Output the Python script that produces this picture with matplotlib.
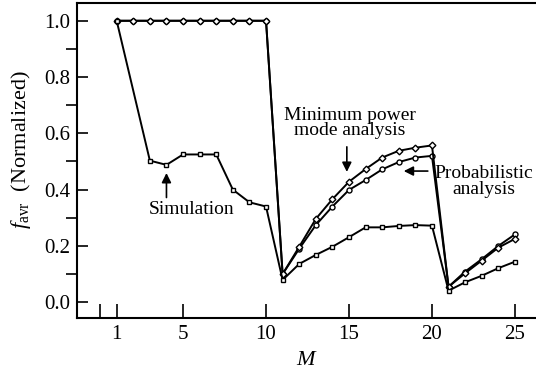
import numpy as np
import matplotlib
matplotlib.use("Agg")
import matplotlib.pyplot as plt
from matplotlib.ticker import MultipleLocator, FormatStrFormatter

plt.rcParams['font.family'] = 'serif'
plt.rcParams['font.serif'] = ['Liberation Serif', 'DejaVu Serif']
plt.rcParams['mathtext.fontset'] = 'custom'
plt.rcParams['mathtext.rm'] = 'Liberation Serif'
plt.rcParams['mathtext.it'] = 'Liberation Serif:italic'

# M values and normalized f_avr for each curve
m_all = list(range(1, 26))
min_power = [1.0] * 10 + [0.10, 0.197, 0.296, 0.366, 0.428, 0.473, 0.514, 0.538, 0.549, 0.557,
                          0.055, 0.103, 0.148, 0.194, 0.225]
probabilistic = [1.0] * 10 + [0.10, 0.19, 0.274, 0.34, 0.399, 0.434, 0.472, 0.498, 0.514, 0.52,
                              0.055, 0.109, 0.153, 0.20, 0.241]
m_sim = [1] + list(range(3, 26))
simulation = [1.0, 0.503, 0.488, 0.525, 0.525, 0.525, 0.40, 0.355, 0.34,
              0.079, 0.136, 0.168, 0.197, 0.231, 0.266, 0.266, 0.271, 0.274, 0.272,
              0.041, 0.071, 0.094, 0.121, 0.144]

x_ticks = [0, 1, 5, 10, 15, 20, 25]
x_tick_labels = ['', '1', '5', '10', '15', '20', '25']

fig = plt.figure(figsize=(5.36, 3.79), dpi=100)
ax = fig.add_axes([0.1437, 0.161, 0.8563, 0.831])

mk = dict(color='black', lw=1.4, markersize=3.6, markerfacecolor='white',
          markeredgecolor='black', markeredgewidth=1.0)
ax.plot(m_all, probabilistic, marker='o', **mk)
ax.plot(m_all, min_power, marker='D', **{**mk, 'markersize': 3.4})
ax.plot(m_sim, simulation, marker='s', **{**mk, 'markersize': 3.4})

ax.set_xlim(-1.39, 26.27)
ax.set_ylim(-0.056, 1.063)
ax.set_xticks(x_ticks)
ax.set_xticklabels(x_tick_labels)
ax.yaxis.set_major_locator(MultipleLocator(0.2))
ax.yaxis.set_minor_locator(MultipleLocator(0.1))
ax.yaxis.set_major_formatter(FormatStrFormatter('%.1f'))

ax.tick_params(axis='both', direction='in', labelsize=15, width=1.2, pad=5)
ax.tick_params(axis='x', length=10, top=False)
ax.tick_params(axis='y', which='both', length=8, right=False)
ax.tick_params(axis='y', which='minor', width=1.2)
for s in ['left', 'bottom', 'top']:
    ax.spines[s].set_linewidth(1.5)
ax.spines['right'].set_visible(False)

ax.set_xlabel(r'$M$', fontsize=16, labelpad=5)
ax.set_ylabel(r'$f_{\mathrm{avr}}$  (Normalized)', fontsize=16)
ax.yaxis.set_label_coords(-0.097, 0.535)

arrow = dict(arrowstyle='-|>', color='black', lw=1.2, mutation_scale=14, shrinkA=0, shrinkB=0)
ax.annotate('', xy=(4.0, 0.459), xytext=(4.0, 0.372), arrowprops=arrow)
ax.text(5.5, 0.328, 'Simulation', fontsize=14, ha='center', va='center')

ax.annotate('', xy=(14.87, 0.463), xytext=(14.87, 0.552), arrowprops=arrow)
ax.text(15.05, 0.637, 'Minimum power\nmode analysis', fontsize=14, ha='center', va='center',
        linespacing=0.9)

ax.annotate('', xy=(18.3, 0.466), xytext=(19.75, 0.466), arrowprops=arrow)
ax.text(23.1, 0.43, 'Probabilistic\nanalysis', fontsize=14, ha='center', va='center',
        linespacing=0.9)

fig.savefig('out.png', dpi=100)
